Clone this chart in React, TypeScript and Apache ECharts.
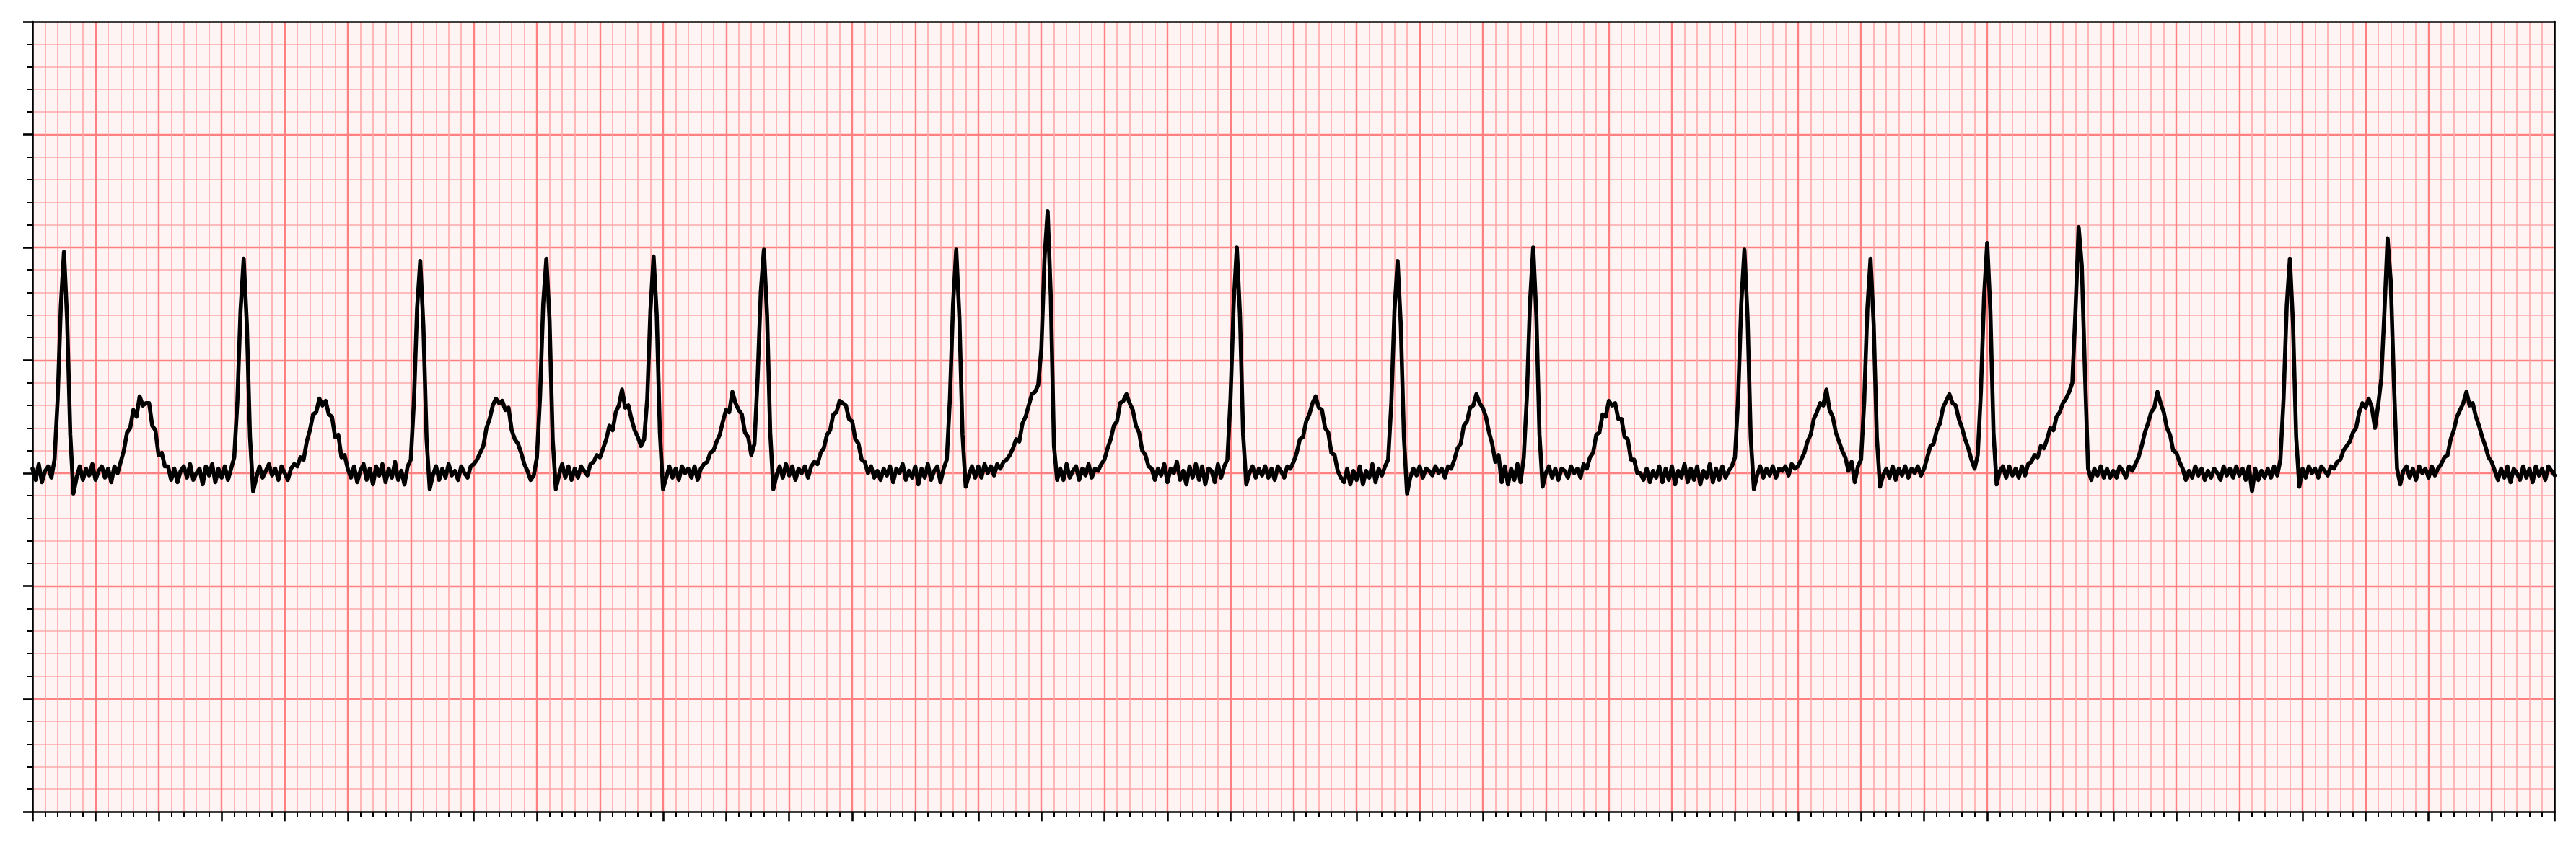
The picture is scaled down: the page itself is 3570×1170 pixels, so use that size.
import React, { useEffect, useRef } from "react";
import * as echarts from "echarts";

// ECG strip: one sample every 10 ms, amplitude in mV
const SAMPLE_STEP_S = 0.01;

const second0 = [
  0.02, -0.03, 0.04, -0.04, 0.01, 0.03, -0.02, 0.06, 0.33, 0.74,
  0.98, 0.68, 0.17, -0.09, -0.02, 0.03, -0.03, 0.02, -0.01, 0.04,
  -0.03, 0.01, 0.03, -0.02, 0.02, -0.04, 0.03, 0.0, 0.05, 0.1,
  0.18, 0.2, 0.28, 0.25, 0.34, 0.3, 0.31, 0.31, 0.21, 0.19,
  0.08, 0.09, 0.03, 0.03, -0.03, 0.02, -0.04, 0.01, 0.03, -0.02,
  0.04, -0.03, 0.0, 0.02, -0.05, 0.03, -0.01, 0.04, -0.04, 0.02,
  -0.02, 0.03, -0.03, 0.02, 0.07, 0.32, 0.72, 0.95, 0.66, 0.16,
  -0.08, -0.02, 0.03, -0.02, 0.01, 0.04, -0.01, 0.02, -0.03, 0.03,
  0.0, -0.03, 0.02, 0.04, 0.03, 0.07, 0.06, 0.14, 0.19, 0.26,
  0.27, 0.33, 0.3, 0.32, 0.26, 0.25, 0.16, 0.17, 0.07, 0.08,
];
const second1 = [
  0.02, -0.02, 0.03, -0.04, 0.01, 0.04, -0.03, 0.02, -0.05, 0.03,
  -0.01, 0.04, -0.04, 0.02, -0.02, 0.05, -0.03, 0.01, -0.05, 0.03,
  0.06, 0.32, 0.73, 0.94, 0.65, 0.15, -0.07, -0.01, 0.03, -0.03,
  0.02, -0.02, 0.04, -0.01, 0.01, -0.03, 0.03, 0.0, -0.02, 0.03,
  0.04, 0.06, 0.09, 0.12, 0.2, 0.24, 0.3, 0.33, 0.31, 0.32,
  0.28, 0.29, 0.19, 0.15, 0.13, 0.09, 0.04, 0.01, -0.03, -0.01,
  0.07, 0.34, 0.75, 0.95, 0.68, 0.15, -0.07, -0.01, 0.04, -0.02,
  0.03, -0.03, 0.02, -0.02, 0.03, 0.01, -0.01, 0.04, 0.05, 0.08,
  0.07, 0.11, 0.15, 0.21, 0.19, 0.27, 0.3, 0.37, 0.29, 0.3,
  0.24, 0.19, 0.16, 0.12, 0.15, 0.33, 0.72, 0.96, 0.7, 0.18,
];
const second2 = [
  -0.07, -0.02, 0.03, -0.02, 0.02, -0.03, 0.03, 0.0, 0.02, -0.02,
  0.03, -0.03, 0.02, 0.04, 0.05, 0.09, 0.1, 0.14, 0.17, 0.23,
  0.28, 0.27, 0.36, 0.31, 0.28, 0.26, 0.18, 0.16, 0.08, 0.13,
  0.42, 0.8, 0.99, 0.7, 0.18, -0.07, -0.01, 0.03, -0.02, 0.04,
  -0.01, 0.03, -0.03, 0.02, 0.0, 0.03, -0.02, 0.03, 0.05, 0.04,
  0.09, 0.11, 0.17, 0.19, 0.26, 0.27, 0.32, 0.31, 0.3, 0.24,
  0.23, 0.15, 0.13, 0.06, 0.05, 0.0, 0.03, -0.02, 0.01, -0.03,
  0.02, -0.01, 0.03, -0.04, 0.02, 0.0, 0.04, -0.03, 0.01, -0.02,
  0.03, -0.05, 0.02, -0.02, 0.04, -0.03, 0.01, 0.03, -0.04, 0.02,
  0.06, 0.33, 0.75, 0.99, 0.69, 0.17, -0.06, -0.01, 0.03, -0.02,
];
const second3 = [
  0.03, -0.02, 0.04, 0.0, 0.03, -0.01, 0.04, 0.02, 0.05, 0.06,
  0.08, 0.11, 0.15, 0.14, 0.22, 0.25, 0.3, 0.35, 0.36, 0.39,
  0.55, 0.95, 1.16, 0.78, 0.12, -0.03, 0.02, -0.03, 0.04, -0.02,
  0.01, 0.03, -0.03, 0.02, -0.01, 0.04, -0.02, 0.02, 0.01, 0.04,
  0.06, 0.11, 0.15, 0.21, 0.23, 0.31, 0.32, 0.35, 0.31, 0.28,
  0.21, 0.18, 0.1, 0.08, 0.03, 0.02, -0.03, 0.02, -0.01, 0.04,
  -0.04, 0.02, 0.0, 0.05, -0.03, 0.01, -0.05, 0.03, -0.02, 0.04,
  -0.03, 0.03, -0.05, 0.02, 0.01, -0.04, 0.04, -0.02, 0.03, 0.06,
  0.33, 0.75, 1.0, 0.7, 0.17, -0.05, 0.0, 0.03, -0.02, 0.02,
  -0.01, 0.03, -0.02, 0.02, -0.03, 0.03, 0.01, -0.02, 0.03, 0.02,
];
const second4 = [
  0.05, 0.09, 0.15, 0.16, 0.23, 0.26, 0.31, 0.34, 0.29, 0.28,
  0.2, 0.18, 0.09, 0.08, 0.01, -0.02, -0.04, 0.02, -0.05, 0.01,
  -0.03, 0.03, -0.05, 0.01, -0.02, 0.04, -0.04, 0.02, -0.01, 0.03,
  0.06, 0.31, 0.72, 0.94, 0.66, 0.16, -0.09, -0.02, 0.02, -0.01,
  0.03, -0.02, 0.02, 0.01, -0.01, 0.03, 0.0, 0.02, -0.02, 0.03,
  0.02, 0.06, 0.11, 0.13, 0.21, 0.23, 0.29, 0.3, 0.35, 0.31,
  0.29, 0.25, 0.18, 0.13, 0.05, 0.08, -0.04, 0.03, -0.05, 0.02,
  -0.03, 0.04, -0.04, 0.07, 0.34, 0.76, 1.0, 0.7, 0.17, -0.06,
  0.0, 0.03, -0.02, 0.02, -0.03, 0.02, 0.01, -0.02, 0.03, 0.0,
  0.02, -0.02, 0.04, 0.02, 0.07, 0.09, 0.17, 0.18, 0.26, 0.25,
];
const second5 = [
  0.32, 0.3, 0.31, 0.24, 0.24, 0.16, 0.15, 0.06, 0.06, 0.0,
  0.0, -0.03, 0.02, -0.04, 0.01, -0.02, 0.03, -0.04, 0.02, -0.03,
  0.03, -0.05, 0.01, -0.02, 0.04, -0.04, 0.02, -0.03, 0.03, -0.05,
  0.01, -0.02, 0.04, -0.04, 0.02, -0.03, 0.03, -0.02, 0.01, 0.03,
  0.07, 0.33, 0.75, 0.99, 0.69, 0.16, -0.07, -0.01, 0.03, -0.02,
  0.02, -0.01, 0.03, -0.02, 0.02, 0.01, 0.03, -0.01, 0.04, 0.02,
  0.03, 0.06, 0.09, 0.14, 0.17, 0.24, 0.27, 0.31, 0.3, 0.37,
  0.28, 0.25, 0.18, 0.14, 0.1, 0.07, 0.01, 0.05, -0.04, 0.03,
  0.06, 0.32, 0.73, 0.95, 0.66, 0.16, -0.06, -0.01, 0.02, -0.02,
  0.03, -0.03, 0.02, -0.01, 0.03, -0.02, 0.02, 0.0, 0.03, -0.01,
];
const second6 = [
  0.02, 0.07, 0.12, 0.13, 0.19, 0.22, 0.29, 0.32, 0.35, 0.31,
  0.3, 0.24, 0.2, 0.15, 0.11, 0.06, 0.02, 0.08, 0.36, 0.78,
  1.02, 0.72, 0.18, -0.05, 0.01, 0.03, -0.02, 0.03, -0.01, 0.02,
  -0.02, 0.03, -0.01, 0.04, 0.05, 0.08, 0.07, 0.12, 0.11, 0.15,
  0.2, 0.19, 0.25, 0.27, 0.31, 0.33, 0.36, 0.4, 0.72, 1.09,
  0.92, 0.45, 0.02, -0.03, 0.02, -0.01, 0.03, -0.02, 0.02, -0.02,
  0.01, -0.02, 0.03, 0.01, -0.02, 0.03, 0.01, 0.04, 0.07, 0.12,
  0.18, 0.22, 0.27, 0.29, 0.36, 0.31, 0.27, 0.2, 0.17, 0.1,
  0.09, 0.05, 0.02, -0.03, 0.01, -0.02, 0.03, -0.01, 0.02, -0.03,
  0.01, -0.02, 0.02, 0.0, -0.03, 0.03, -0.01, 0.02, -0.02, 0.03,
];
const second7 = [
  -0.01, 0.02, -0.03, 0.03, -0.08, 0.02, -0.03, 0.01, -0.02, 0.02,
  -0.02, 0.03, -0.01, 0.06, 0.33, 0.74, 0.95, 0.66, 0.16, -0.06,
  0.02, -0.02, 0.03, 0.0, 0.02, -0.02, 0.03, 0.01, -0.01, 0.03,
  0.02, 0.05, 0.06, 0.1, 0.12, 0.14, 0.18, 0.2, 0.27, 0.31,
  0.29, 0.33, 0.29, 0.2, 0.3, 0.42, 0.72, 1.04, 0.85, 0.4,
  0.02, -0.05, 0.01, 0.03, -0.02, 0.02, -0.03, 0.03, 0.0, 0.02,
  -0.02, 0.03, -0.01, 0.02, 0.04, 0.07, 0.08, 0.15, 0.19, 0.25,
  0.28, 0.31, 0.36, 0.3, 0.31, 0.25, 0.21, 0.16, 0.12, 0.07,
  0.05, 0.01, -0.03, 0.02, -0.02, 0.03, -0.04, 0.02, 0.0, -0.03,
  0.03, -0.02, 0.02, -0.04, 0.03, -0.01, 0.02, -0.03, 0.03, 0.01,
  -0.01,
];

// Axis ranges (seconds, mV) and ECG paper grid spacing
const X_MIN = 0;
const X_MAX = 8;
const X_MAJOR = 0.2;
const Y_MIN = -1.5;
const Y_MAX = 2.0;
const Y_MAJOR = 0.5;
const MINOR_PER_MAJOR = 5;

export default function App() {
  const ref = useRef<HTMLDivElement>(null);

  useEffect(() => {
    document.body.style.margin = "0";
    const chart = echarts.init(ref.current!, null, { renderer: "svg" });

    const ecgMv = [
      ...second0, ...second1, ...second2, ...second3,
      ...second4, ...second5, ...second6, ...second7,
    ];
    const data = ecgMv.map((v, i) => [Math.round(i * SAMPLE_STEP_S * 100) / 100, v]);

    const spine = { show: true, onZero: false, lineStyle: { color: "#000", width: 2.6 } };
    const majorSplit = {
      show: true,
      showMinLine: false,
      showMaxLine: false,
      lineStyle: { color: "#ff8080", width: 2.4 },
    };
    const minorSplit = { show: true, lineStyle: { color: "#ffa8a8", width: 1.6 } };
    const majorTick = { show: true, inside: false, length: 13, lineStyle: { color: "#000", width: 2.6 } };
    const minorTick = {
      show: true,
      splitNumber: MINOR_PER_MAJOR,
      length: 7.5,
      lineStyle: { color: "#000", width: 2 },
    };

    chart.setOption({
      animation: false,
      backgroundColor: "#ffffff",
      grid: {
        left: 45,
        top: 30,
        right: 29.5,
        bottom: 44.7,
        show: true,
        backgroundColor: "#fff4f4",
        borderWidth: 0,
      },
      xAxis: [
        {
          type: "value",
          min: X_MIN,
          max: X_MAX,
          interval: X_MAJOR,
          position: "bottom",
          axisLine: spine,
          axisTick: majorTick,
          minorTick: minorTick,
          axisLabel: { show: false },
          splitLine: majorSplit,
          minorSplitLine: minorSplit,
        },
        {
          type: "value",
          min: X_MIN,
          max: X_MAX,
          position: "top",
          axisLine: spine,
          axisTick: { show: false },
          axisLabel: { show: false },
          splitLine: { show: false },
        },
      ],
      yAxis: [
        {
          type: "value",
          min: Y_MIN,
          max: Y_MAX,
          interval: Y_MAJOR,
          position: "left",
          axisLine: spine,
          axisTick: majorTick,
          minorTick: minorTick,
          axisLabel: { show: false },
          splitLine: majorSplit,
          minorSplitLine: minorSplit,
        },
        {
          type: "value",
          min: Y_MIN,
          max: Y_MAX,
          position: "right",
          axisLine: spine,
          axisTick: { show: false },
          axisLabel: { show: false },
          splitLine: { show: false },
        },
      ],
      series: [
        {
          type: "line",
          xAxisIndex: 0,
          yAxisIndex: 0,
          data,
          showSymbol: false,
          symbol: "none",
          z: 5,
          lineStyle: { color: "#000000", width: 5.6, join: "round", cap: "round" },
        },
      ],
    });

    return () => chart.dispose();
  }, []);

  return (
    <div
      ref={ref}
      style={{ position: "fixed", left: 0, top: 0, width: 3570, height: 1170 }}
    />
  );
}
